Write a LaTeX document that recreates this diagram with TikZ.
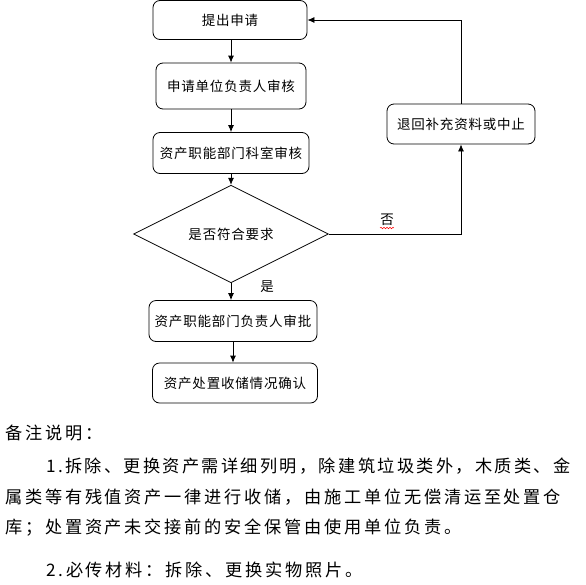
\documentclass[tikz,border=0pt]{standalone}
\usepackage{fontspec}
\newfontfamily\cjkbox[LetterSpace=6]{Noto Sans CJK SC}
\newfontfamily\cjknote[LetterSpace=16]{Noto Sans CJK SC}
\newfontfamily\cjknotetight[LetterSpace=13.5]{Noto Sans CJK SC}
\usetikzlibrary{shapes.geometric,arrows.meta,positioning,calc,decorations.pathmorphing}

\begin{document}
\begin{tikzpicture}[x=1pt, y=-1pt,
    stepbox/.style={rectangle, draw, rounded corners=7pt, line width=0.8pt, align=center, inner sep=0pt, font=\cjkbox\fontsize{13.5}{15}\selectfont},
    decision/.style={diamond, draw, line width=0.8pt, inner sep=0pt, minimum width=195pt, minimum height=78pt, font=\cjkbox\fontsize{13.5}{15}\selectfont},
    flow/.style={-{Latex[length=7pt,width=6pt]}, line width=0.8pt},
    tag/.style={font=\cjkbox\fontsize{13.5}{15}\selectfont, inner sep=0pt},
    note/.style={anchor=west, inner sep=0pt, font=\cjknote\fontsize{17.2}{19}\selectfont}
]
    \useasboundingbox (0,0) rectangle (586,584);

    % Flow steps
    \node[stepbox, minimum width=154pt, minimum height=39pt] (apply) at (230,20) {提出申请};
    \node[stepbox, minimum width=150pt, minimum height=46pt] (unit) at (231,86) {申请单位负责人审核};
    \node[stepbox, minimum width=156pt, minimum height=41pt] (office) at (231,153) {资产职能部门科室审核};
    \node[decision] (check) at (231,234) {是否符合要求};
    \node[stepbox, minimum width=168pt, minimum height=41pt] (approve) at (233,321) {资产职能部门负责人审批};
    \node[stepbox, minimum width=165pt, minimum height=40pt] (store) at (235,383) {资产处置收储情况确认};
    \node[stepbox, minimum width=148pt, minimum height=40pt] (back) at (461,124) {退回补充资料或中止};

    % Labels
    \node[tag] (no) at (387,220) {否};
    \node[tag] (yes) at (267,287) {是};
    \draw[red, line width=0.5pt, decorate, decoration={snake, amplitude=0.8pt, segment length=3pt}]
        ($(no.south west)+(0,2)$) -- ($(no.south east)+(0,2)$);

    % Connections
    \draw[flow] (apply.south -| unit.north) -- (unit.north);
    \draw[flow] (unit.south) -- (office.north);
    \draw[flow] (office.south) -- (check.north);
    \draw[flow] (check.south) -- (check.south |- approve.north);
    \draw[flow] (approve.south) -- (approve.south |- store.north);
    \draw[flow] (check.east) -| (back.south);
    \draw[flow] (back.north) |- (apply.east);

    % Remarks
    \node[note] (r0) at (5,433) {备注说明：};
    \node[note, font=\cjknotetight\fontsize{17.2}{19}\selectfont] (r1) at (46,466) {1.拆除、更换资产需详细列明，除建筑垃圾类外，木质类、金};
    \node[note] (r2) at (5,497) {属类等有残值资产一律进行收储，由施工单位无偿清运至处置仓};
    \node[note] (r3) at (5,528) {库；处置资产未交接前的安全保管由使用单位负责。};
    \node[note] (r4) at (46,570) {2.必传材料：拆除、更换实物照片。};
\end{tikzpicture}
\end{document}
